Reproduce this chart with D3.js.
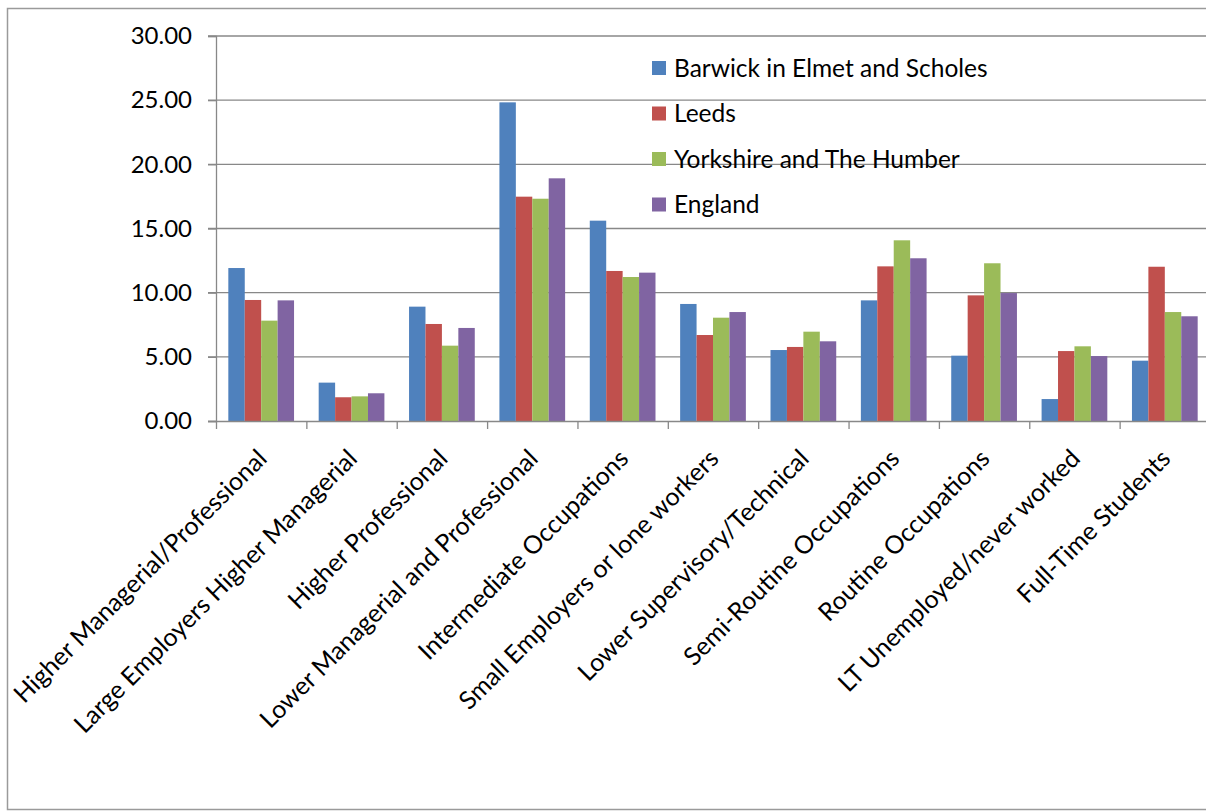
<!DOCTYPE html>
<html>
<head>
<meta charset="utf-8">
<script src="https://cdn.jsdelivr.net/npm/d3@7"></script>
<style>
  html, body { margin: 0; padding: 0; background: #fff; }
  svg { display: block; }
  text { font-family: Lato, "Open Sans", sans-serif; fill: #000; }
</style>
</head>
<body>
<svg id="chart" width="1206" height="812"></svg>
<script>
const categories = [
  "Higher Managerial/Professional",
  "Large Employers Higher Managerial",
  "Higher Professional",
  "Lower Managerial and Professional",
  "Intermediate Occupations",
  "Small Employers or lone workers",
  "Lower Supervisory/Technical",
  "Semi-Routine Occupations",
  "Routine Occupations",
  "LT Unemployed/never worked",
  "Full-Time Students"
];
const seriesNames = ["Barwick in Elmet and Scholes", "Leeds", "Yorkshire and The Humber", "England"];
const barwick  = [11.92, 2.99, 8.91, 24.83, 15.61, 9.12, 5.53, 9.40, 5.09, 1.71, 4.70];
const leeds    = [9.43, 1.85, 7.56, 17.48, 11.69, 6.70, 5.77, 12.05, 9.79, 5.45, 12.02];
const yorkshire= [7.82, 1.92, 5.87, 17.32, 11.22, 8.05, 6.96, 14.08, 12.29, 5.82, 8.49];
const england  = [9.40, 2.16, 7.25, 18.91, 11.56, 8.49, 6.21, 12.68, 9.97, 5.06, 8.16];
const yTicks = [0, 5, 10, 15, 20, 25, 30];
const colors = ["#4F81BD", "#C0504D", "#9BBB59", "#8064A2"];

const seriesValues = [barwick, leeds, yorkshire, england];

const svg = d3.select("#chart");
const plotLeft = 216, plotRight = 1210, plotTop = 36, plotBottom = 421;
const gridColor = "#888888";
const fontSize = 24;
const labelFontSize = 25;

// outer border
svg.append("rect")
  .attr("x", 7.5).attr("y", 8.5)
  .attr("width", 1210).attr("height", 801)
  .attr("fill", "none").attr("stroke", "#9a9a9a").attr("stroke-width", 1.5);

const x0 = d3.scaleBand().domain(categories).range([plotLeft, plotRight]).paddingInner(0).paddingOuter(0);
const groupPad = x0.bandwidth() * 1.5 / 5.5 / 2; // Excel gap width 150%
const x1 = d3.scaleBand().domain(d3.range(seriesNames.length))
  .range([groupPad, x0.bandwidth() - groupPad]).padding(0);
const y = d3.scaleLinear().domain([0, 30]).range([plotBottom, plotTop]);

// gridlines
svg.append("g").selectAll("line").data(yTicks.filter(d => d > 0)).join("line")
  .attr("x1", plotLeft - 8).attr("x2", plotRight)
  .attr("y1", d => y(d)).attr("y2", d => y(d))
  .attr("stroke", gridColor).attr("stroke-width", 1.3);

// bars
const groups = svg.append("g").selectAll("g").data(categories).join("g")
  .attr("transform", d => `translate(${x0(d)},0)`);
groups.selectAll("rect")
  .data((c, i) => seriesValues.map((vals, s) => ({ s, v: vals[i] })))
  .join("rect")
  .attr("x", d => x1(d.s))
  .attr("width", x1.bandwidth())
  .attr("y", d => y(d.v))
  .attr("height", d => y(0) - y(d.v))
  .attr("fill", d => colors[d.s]);

// y axis
const yAxis = d3.axisLeft(y).tickValues(yTicks).tickFormat(d3.format(".2f")).tickSize(8).tickPadding(16);
const gy = svg.append("g").attr("transform", `translate(${plotLeft},0)`).call(yAxis);
gy.select(".domain").attr("stroke", gridColor).attr("stroke-width", 1.3);
gy.selectAll(".tick line").attr("stroke", gridColor).attr("stroke-width", 1.3);
gy.selectAll(".tick text").attr("font-size", fontSize).attr("font-family", "Lato, sans-serif").attr("fill", "#000");

// x axis
const xTickScale = d3.scaleLinear().domain([0, categories.length]).range([plotLeft, plotRight]);
const xAxis = d3.axisBottom(xTickScale).tickValues(d3.range(0, categories.length + 1)).tickSize(8).tickFormat("");
const gx = svg.append("g").attr("transform", `translate(0,${plotBottom})`).call(xAxis);
gx.select(".domain").attr("stroke", gridColor).attr("stroke-width", 1.3).attr("d", `M${plotLeft - 8},0.5H${plotRight}`);
gx.selectAll(".tick line").attr("stroke", gridColor).attr("stroke-width", 1.3);

// x labels
svg.append("g").selectAll("text").data(categories).join("text")
  .attr("transform", d => `translate(${x0(d) + x0.bandwidth() / 2 + 1},${plotBottom + 33}) rotate(-45)`)
  .attr("text-anchor", "end")
  .attr("dy", "0.35em")
  .attr("font-size", labelFontSize)
  .text(d => d);

// legend
const legend = svg.append("g").attr("transform", "translate(652,68)");
const li = legend.selectAll("g").data(seriesNames).join("g")
  .attr("transform", (d, i) => `translate(0,${i * 45.5})`);
li.append("rect").attr("x", 0).attr("y", -7).attr("width", 14).attr("height", 14)
  .attr("fill", (d, i) => colors[i]);
li.append("text").attr("x", 22).attr("dy", "0.35em").attr("font-size", 24.5).text(d => d);
</script>
</body>
</html>
